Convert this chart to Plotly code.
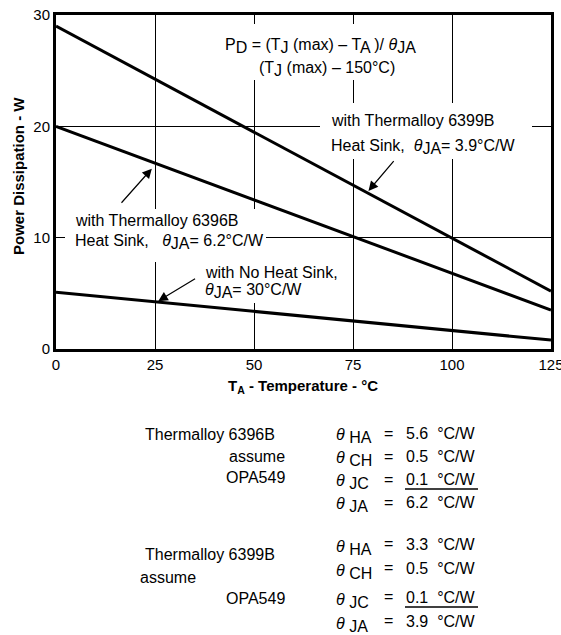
import plotly.graph_objects as go

# ---- data ----
temps = [0, 125]
pd_6399b = [29.0, 5.2]
pd_6396b = [20.0, 3.5]
pd_nohs = [5.1, 0.8]
x_ticks = [0, 25, 50, 75, 100, 125]
y_ticks = [0, 10, 20, 30]

W, H = 561, 635
L, R, T, B = 56, 551, 15, 349
FONT = "Liberation Sans, Arial, Helvetica, sans-serif"
FS = 16


def px(x):
    return (x - L) / (R - L)


def py(y):
    return (B - y) / (B - T)


def sub(s):
    return "<sub><span style='font-size:%dpx'>%s</span></sub>" % (FS, s)


fig = go.Figure()
for ys in (pd_6399b, pd_6396b, pd_nohs):
    fig.add_trace(go.Scatter(x=temps, y=ys, mode="lines",
                             line=dict(color="black", width=3),
                             showlegend=False, hoverinfo="skip"))

shapes = []
# white boxes behind labels (hide grid lines)
for x0, x1, y0, y1 in [(218, 422, 24, 80), (320, 532, 103, 159),
                       (65, 266, 209, 262), (198, 350, 262, 303)]:
    shapes.append(dict(type="rect", xref="paper", yref="paper",
                       x0=px(x0), x1=px(x1), y0=py(y1), y1=py(y0),
                       fillcolor="white", line=dict(width=0), layer="above"))
# underlines in table
for yy in (489, 607):
    shapes.append(dict(type="line", xref="paper", yref="paper",
                       x0=px(405), x1=px(478), y0=py(yy), y1=py(yy),
                       line=dict(color="black", width=1.5)))

ann = []


def text(t, x, y, xa="left", size=FS):
    ann.append(dict(text=t, x=px(x), y=py(y), xref="paper", yref="paper",
                    xanchor=xa, yanchor="middle", showarrow=False,
                    font=dict(size=size, color="black", family=FONT)))


th = "<i>θ</i>"
text("P" + sub("D") + " = (T" + sub("J") + " (max) – T" + sub("A") + " )/ " + th + sub("JA"), 320, 46, "center")
text("(T" + sub("J") + " (max) – 150°C)", 327, 69, "center")
text("with Thermalloy 6399B", 329, 120)
text("Heat Sink,  " + th + sub("JA") + "= 3.9°C/W", 329, 147)
text("with Thermalloy 6396B", 73, 220)
text("Heat Sink,   " + th + sub("JA") + "= 6.2°C/W", 73, 242)
text("with No Heat Sink,", 203, 272)
text(th + sub("JA") + "= 30°C/W", 203, 291)

# axis titles
ann.append(dict(text="<b>T<sub>A</sub> - Temperature - °C</b>", x=px(303), y=py(386),
                xref="paper", yref="paper", xanchor="center", yanchor="middle",
                showarrow=False, font=dict(size=15, color="black", family=FONT)))
ann.append(dict(text="<b>Power Dissipation - W</b>", x=px(18), y=py(176),
                xref="paper", yref="paper", xanchor="center", yanchor="middle",
                textangle=-90, showarrow=False,
                font=dict(size=15, color="black", family=FONT)))

# arrows
for tip, tail in [((24.2, 16.2), (16.2, 13.0)),
                  ((78.9, 14.2), (85.6, 17.0)),
                  ((25.8, 4.3), (35.5, 6.4))]:
    ann.append(dict(x=tip[0], y=tip[1], ax=tail[0], ay=tail[1],
                    xref="x", yref="y", axref="x", ayref="y", text="",
                    showarrow=True, arrowhead=2, arrowsize=1.6,
                    arrowwidth=1.2, arrowcolor="black"))

# table block 1
text("Thermalloy 6396B", 277, 434, "right")
text("assume", 287, 456, "right")
text("OPA549", 287, 478, "right")
rows1 = [("HA", "5.6"), ("CH", "0.5"), ("JC", "0.1"), ("JA", "6.2")]
for i, (s, val) in enumerate(rows1):
    y = [434, 457, 480, 503][i]
    text(th + " " + sub(s), 334, y + 2)
    text("=", 388, y - 1, "center")
    text(val + "  °C/W", 404, y - 1)

# table block 2
text("Thermalloy 6399B", 143, 554)
text("assume", 138, 577)
text("OPA549", 287, 598, "right")
rows2 = [("HA", "3.3"), ("CH", "0.5"), ("JC", "0.1"), ("JA", "3.9")]
for i, (s, val) in enumerate(rows2):
    y = [547, 571, 600, 624][i]
    text(th + " " + sub(s), 334, y + 1)
    text("=", 388, y - 4, "center")
    text(val + "  °C/W", 404, y - 3)

axis_common = dict(showgrid=True, gridcolor="black", gridwidth=1.3,
                   zeroline=False, showline=True, linecolor="black",
                   linewidth=3, mirror=True, ticks="", automargin=False,
                   ticklabeloverflow="allow",
                   tickfont=dict(size=15, color="black", family=FONT))

fig.update_layout(
    width=W, height=H, autosize=False,
    margin=dict(l=L, r=W - R, t=T, b=H - B, pad=0, autoexpand=False),
    paper_bgcolor="white", plot_bgcolor="white",
    xaxis=dict(range=[0, 125], tickvals=x_ticks, **axis_common),
    yaxis=dict(range=[0, 30], tickvals=y_ticks, **axis_common),
    shapes=shapes, annotations=ann, showlegend=False,
)

fig.write_html(
    "out.html",
    config={"displayModeBar": False},
    post_script=("document.documentElement.style.margin='0px';"
                 "document.documentElement.style.overflow='hidden';"
                 "document.body.style.margin='0px';"
                 "document.body.style.padding='0px';"
                 "document.body.style.overflow='hidden';"),
)
